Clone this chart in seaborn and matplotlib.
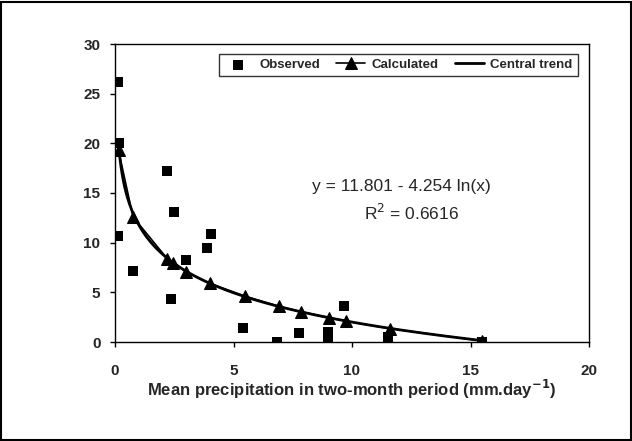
import numpy as np
import pandas as pd
import matplotlib
matplotlib.use("Agg")
import matplotlib.pyplot as plt
import seaborn as sns

# Observed data
obs_x = [0.13, 0.17, 0.13, 0.76, 2.18, 2.48, 2.35, 2.98, 3.90, 4.03, 5.42, 6.85, 7.77, 9.00, 9.00, 9.66, 11.50, 15.50]
obs_y = [26.2, 20.0, 10.7, 7.1, 17.2, 13.1, 4.3, 8.3, 9.5, 10.9, 1.4, 0.0, 0.9, 1.0, 0.0, 3.6, 0.5, 0.0]

# Calculated values
calc_x = [0.15, 0.76, 2.20, 2.45, 3.00, 4.00, 5.50, 6.90, 7.85, 9.05, 9.75, 11.60, 15.50]
calc_y = [19.3, 12.6, 8.4, 8.0, 7.05, 5.9, 4.6, 3.6, 3.05, 2.45, 2.1, 1.35, 0.1]

# Central trend: y = a - b ln(x)
trend_a = 11.801
trend_b = 4.254
trend_x = np.linspace(0.15, 15.5, 300)
trend_y = trend_a - trend_b * np.log(trend_x)

x_ticks = [0, 5, 10, 15, 20]
y_ticks = [0, 5, 10, 15, 20, 25, 30]

sns.set_style("white")
plt.rcParams['font.family'] = ['Liberation Sans', 'DejaVu Sans']

fig = plt.figure(figsize=(6.32, 4.41), dpi=100)
ax = fig.add_axes([115/632, 1 - 342/441, (589 - 115)/632, (342 - 44)/441])

df_obs = pd.DataFrame({"x": obs_x, "y": obs_y})
df_calc = pd.DataFrame({"x": calc_x, "y": calc_y})
df_trend = pd.DataFrame({"x": trend_x, "y": trend_y})

sns.scatterplot(data=df_obs, x="x", y="y", marker="s", s=45, color="black",
                edgecolor="black", linewidth=0, ax=ax, label="Observed", zorder=3)
sns.lineplot(data=df_calc, x="x", y="y", marker="^", markersize=8.5, color="black",
             markeredgecolor="black", linewidth=1.2, ax=ax, label="Calculated", zorder=4,
             sort=True)
sns.lineplot(data=df_trend, x="x", y="y", color="black", linewidth=2, ax=ax,
             label="Central trend", zorder=2)

ax.set_xlim(0, 20)
ax.set_ylim(0, 30)
ax.set_xticks(x_ticks)
ax.set_yticks(y_ticks)
ax.set_xticklabels([str(t) for t in x_ticks], fontweight="bold", fontsize=11)
ax.set_yticklabels([str(t) for t in y_ticks], fontweight="bold", fontsize=11)
ax.tick_params(axis="x", direction="out", length=3.5, width=1, color="black",
               bottom=True, pad=12)
ax.tick_params(axis="y", direction="out", length=3.5, width=1, color="black",
               left=True, pad=7)
for sp in ax.spines.values():
    sp.set_color("black")
    sp.set_linewidth(1)

ax.set_xlabel("Mean precipitation in two-month period (mm.day$^{\\mathbf{-1}}$)",
              fontweight="bold", fontsize=12, labelpad=0)
ax.set_ylabel("")

ax.text(12.07, 15.7, "y = 11.801 - 4.254 ln(x)", fontsize=12.5, ha="center", va="center")
ax.text(12.5, 13.0, "R$^2$ = 0.6616", fontsize=12.5, ha="center", va="center")

leg = ax.legend(loc="upper right", ncol=3, frameon=True, fancybox=False,
                edgecolor="black", fontsize=9.5, handlelength=2.2, columnspacing=1.2,
                handletextpad=0.5, borderpad=0.4, bbox_to_anchor=(0.99, 0.99))
for t in leg.get_texts():
    t.set_fontweight("bold")
leg.get_frame().set_linewidth(1)

# figure border
fig.patches.append(plt.Rectangle((0.002, 0.002), 0.996, 0.994, transform=fig.transFigure,
                                 fill=False, edgecolor="black", linewidth=1.5))

fig.savefig("out.png", dpi=100)
